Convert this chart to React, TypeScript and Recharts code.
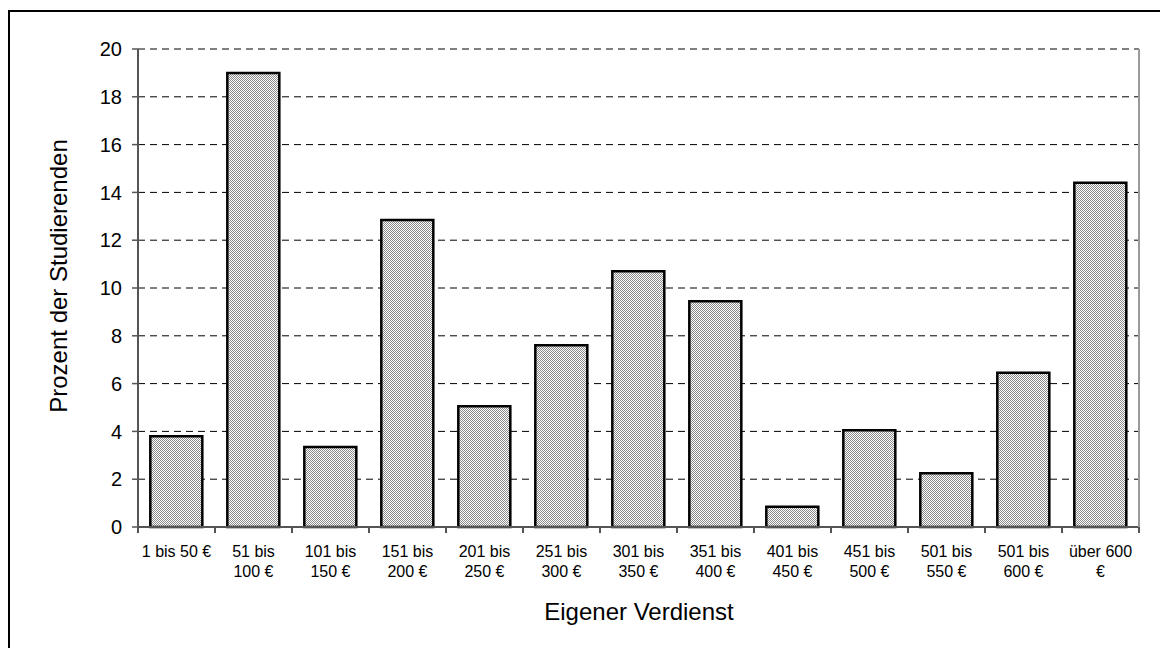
import { BarChart, Bar, XAxis, YAxis, CartesianGrid } from "recharts";

// Eigener Verdienst der Studierenden pro Monat, Anteil in Prozent
const categories = [
  "1 bis 50 €",
  "51 bis\n100 €",
  "101 bis\n150 €",
  "151 bis\n200 €",
  "201 bis\n250 €",
  "251 bis\n300 €",
  "301 bis\n350 €",
  "351 bis\n400 €",
  "401 bis\n450 €",
  "451 bis\n500 €",
  "501 bis\n550 €",
  "501 bis\n600 €",
  "über 600\n€",
];
const shares = [3.8, 19.0, 3.35, 12.85, 5.05, 7.6, 10.7, 9.45, 0.85, 4.05, 2.25, 6.45, 14.4];
const yTicks = [0, 2, 4, 6, 8, 10, 12, 14, 16, 18, 20];

const data = categories.map((name, i) => ({ name, value: shares[i] }));

const W = 1160;
const H = 648;
const MARGIN = { top: 49, right: 20, bottom: 61, left: 78 };
const Y_AXIS_W = 60;
const PLOT_W = W - MARGIN.left - Y_AXIS_W - MARGIN.right - 1;
const BAND = PLOT_W / categories.length;
const FONT = "'Liberation Sans', Arial, sans-serif";

function CategoryTick(props: any) {
  const { x, y, payload, index } = props;
  const lines = String(payload.value).split("\n");
  const last = index === categories.length - 1;
  return (
    <g>
      <line x1={x - BAND / 2} x2={x - BAND / 2} y1={y} y2={y + 6} stroke="#555" strokeWidth={2} />
      {last && <line x1={x + BAND / 2} x2={x + BAND / 2} y1={y} y2={y + 6} stroke="#555" strokeWidth={2} />}
      {lines.map((l, i) => (
        <text key={i} x={x} y={y + 30 + i * 20} textAnchor="middle" fontSize={16} fontFamily={FONT} fill="#000">
          {l}
        </text>
      ))}
    </g>
  );
}

export default function App() {
  return (
    <div style={{ position: "fixed", left: 0, top: 0, width: W, height: H, overflow: "hidden", background: "#fff" }}>
      <div
        style={{
          position: "absolute",
          left: 8,
          top: 10,
          width: 1300,
          height: 800,
          border: "2px solid #000",
        }}
      />
      <svg width={0} height={0} style={{ position: "absolute" }}>
        <defs>
          <pattern id="dots" width={2} height={2} patternUnits="userSpaceOnUse">
            <rect width={2} height={2} fill="#fff" />
            <rect width={1} height={1} fill="#8a8a8a" />
            <rect x={1} y={1} width={1} height={1} fill="#8a8a8a" />
          </pattern>
        </defs>
      </svg>
      <div style={{ position: "absolute", left: 0, top: 0 }}>
        <BarChart width={W} height={H} data={data} margin={MARGIN} barCategoryGap="16%">
          <CartesianGrid vertical={false} stroke="#000" strokeDasharray="7 5" />
          <XAxis
            dataKey="name"
            height={60}
            interval={0}
            tickLine={false}
            tickSize={0}
            tickMargin={0}
            axisLine={{ stroke: "#555", strokeWidth: 2 }}
            tick={<CategoryTick />}
          />
          <XAxis
            xAxisId="top"
            orientation="top"
            dataKey="name"
            height={0}
            tick={false}
            tickLine={false}
            axisLine={{ stroke: "#9a9a9a", strokeWidth: 2 }}
          />
          <YAxis
            width={Y_AXIS_W}
            domain={[0, 20]}
            ticks={yTicks}
            interval={0}
            tickSize={6}
            tickMargin={10}
            tickLine={{ stroke: "#555", strokeWidth: 1.5 }}
            axisLine={{ stroke: "#555", strokeWidth: 2 }}
            tick={{ fill: "#000", fontSize: 20, fontFamily: FONT }}
          />
          <YAxis
            yAxisId="right"
            orientation="right"
            width={1}
            domain={[0, 20]}
            tick={false}
            tickLine={false}
            axisLine={{ stroke: "#9a9a9a", strokeWidth: 2 }}
          />
          <Bar dataKey="value" fill="url(#dots)" stroke="#000" strokeWidth={2.5} isAnimationActive={false} />
        </BarChart>
      </div>
      <svg width={W} height={H} style={{ position: "absolute", left: 0, top: 0, pointerEvents: "none" }}>
        <text x={639} y={620} textAnchor="middle" fontSize={24} fontFamily={FONT} fill="#000">
          Eigener Verdienst
        </text>
        <text
          x={0}
          y={0}
          transform="translate(67 276) rotate(-90)"
          textAnchor="middle"
          fontSize={24}
          fontFamily={FONT}
          fill="#000"
        >
          Prozent der Studierenden
        </text>
      </svg>
    </div>
  );
}
